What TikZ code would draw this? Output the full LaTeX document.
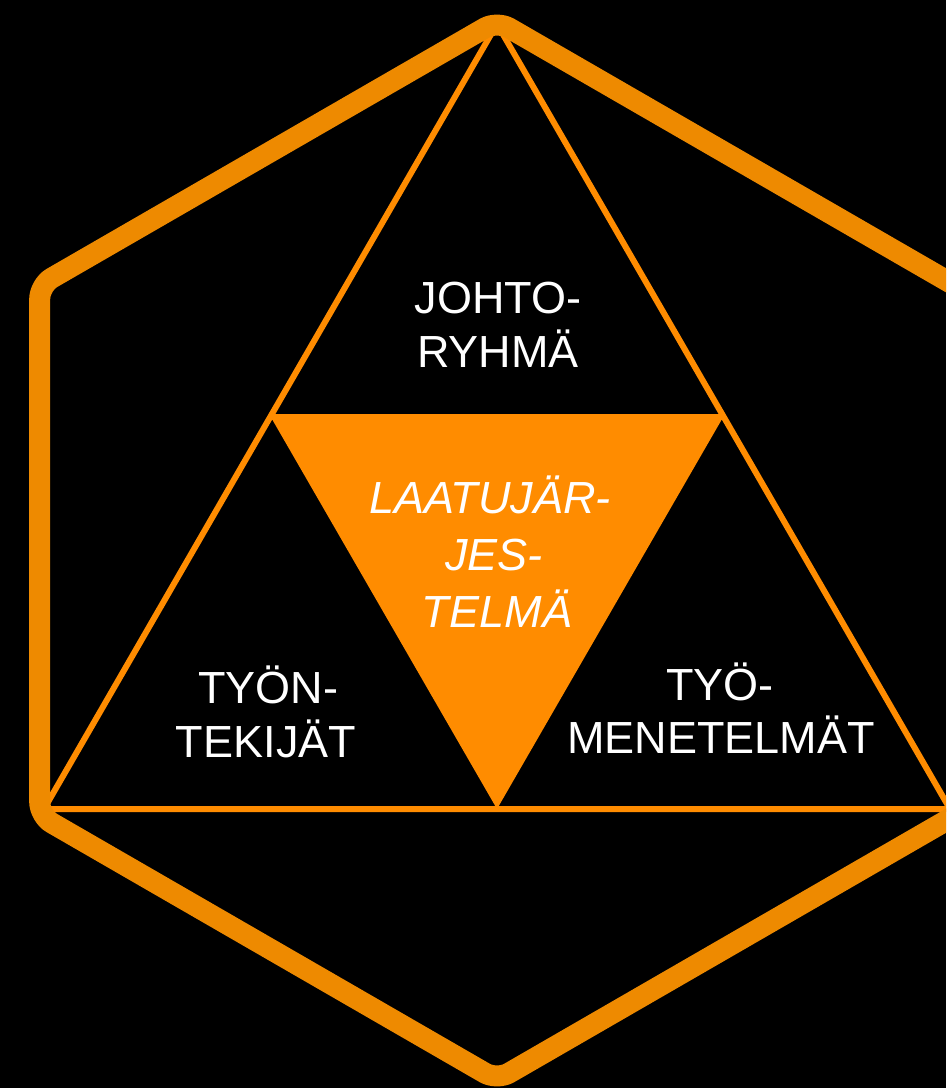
\documentclass[tikz,border=0pt]{standalone}
\usepackage{fontspec}
\setmainfont{Liberation Sans}
\definecolor{hexorange}{RGB}{238,138,0}
\definecolor{triorange}{RGB}{255,140,0}
\begin{document}
\begin{tikzpicture}[x=1pt,y=-1pt,
  lbl/.style={anchor=base,text=white,inner sep=0pt,font=\fontsize{45}{54}\selectfont},
  ilbl/.style={lbl,font=\fontsize{45}{54}\selectfont\itshape}]
\useasboundingbox (0,0) rectangle (946,1088);
\fill[black] (0,0) rectangle (946,1088);
\clip (0,0) rectangle (946,1088);
% big triangle
\coordinate (A) at (497,24);
\coordinate (B) at (44,809);
\coordinate (C) at (950,809);
\coordinate (AB) at (270.5,416.5);
\coordinate (AC) at (723.5,416.5);
\coordinate (BC) at (497,809);
\fill[triorange] (AB) -- (AC) -- (BC) -- cycle;
\draw[triorange,line width=6pt,line join=miter] (A) -- (B) -- (C) -- cycle;
\draw[triorange,line width=6pt] (AB) -- (AC);
% hexagon
\draw[hexorange,line width=21pt,rounded corners=14pt]
  (497,21) -- (975,297) -- (975,804) -- (497,1080) -- (39.7,816) -- (39.7,285) -- cycle;
% labels
\node[lbl] (j1) at (498,313) {JOHTO-};
\node[lbl] (j2) at (498,367) {RYHMÄ};
\node[ilbl] (l1) at (490,513) {LAATUJÄR-};
\node[ilbl] (l2) at (494,570) {JES-};
\node[ilbl] (l3) at (497,627) {TELMÄ};
\node[lbl] (t1) at (268,703) {TYÖN-};
\node[lbl] (t2) at (266,757) {TEKIJÄT};
\node[lbl] (m1) at (720,700) {TYÖ-};
\node[lbl] (m2) at (721,753) {MENETELMÄT};
\end{tikzpicture}
\end{document}
